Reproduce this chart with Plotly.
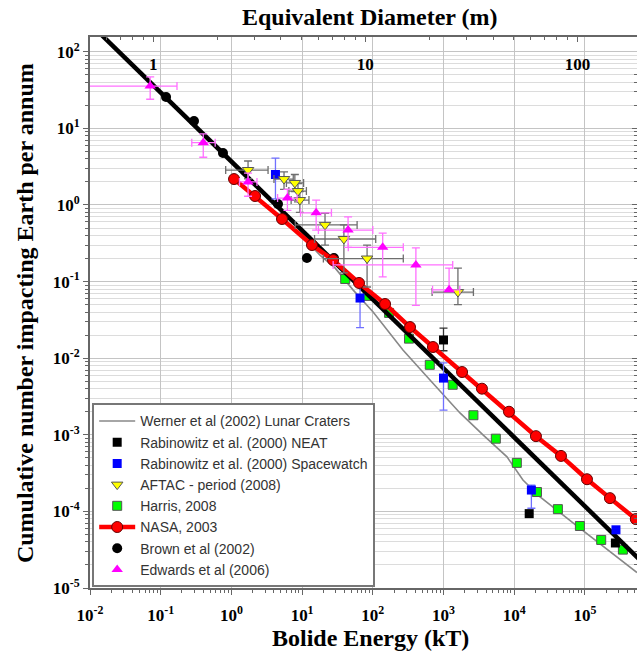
import math
import plotly.graph_objects as go

# ---------------- data ----------------
# Werner et al (2002) lunar craters (grey curve)
werner_E = [9.98, 17.9, 29.2, 52.5, 101, 267, 644, 984, 1710, 3620, 7910, 13300, 23200, 67900, 206000, 546000]
werner_N = [0.394, 0.222, 0.151, 0.078, 0.040, 0.0128, 0.00519, 0.00341, 0.00193, 0.001, 0.000515,
            0.000257, 0.000155, 0.0000708, 0.0000316, 0.0000159]

# Rabinowitz et al. (2000) NEAT
neat_E = [1000, 16300, 270000]
neat_N = [0.0173, 0.0000935, 0.0000387]
neat_N_lo = [0.0125, 0.0000935, 0.0000387]
neat_N_hi = [0.0247, 0.0000935, 0.0000387]

# Rabinowitz et al. (2000) Spacewatch
sw_E = [4.2, 66, 1000, 17500, 275000]
sw_N = [2.5, 0.061, 0.0055, 0.00019, 0.0000575]
sw_N_lo = [1.2, 0.025, 0.0021, 0.00011, 0.0000575]
sw_N_hi = [4.1, 0.1, 0.0087, 0.00022, 0.0000575]

# AFTAC - period (2008)
aftac_E = [1.72, 5.55, 7.9, 8.75, 9.3, 21.1, 39, 83, 1600]
aftac_N = [2.86, 2.18, 1.94, 1.52, 1.16, 0.55, 0.36, 0.20, 0.073]
aftac_E_lo = [0.83, 4.0, 6.0, 6.5, 7.0, 8.0, 15, 20, 690]
aftac_E_hi = [3.3, 7.5, 10.5, 11.5, 12.5, 60, 110, 270, 2650]
aftac_N_lo = [2.2, 1.6, 1.5, 1.1, 0.8, 0.3, 0.13, 0.085, 0.05]
aftac_N_hi = [3.75, 2.7, 2.5, 1.9, 1.5, 0.78, 0.55, 0.3, 0.15]

# Harris, 2008
harris_E = [40.7, 85, 170, 325, 640, 1350, 2650, 5500, 10900, 21000, 41500, 85000, 170000, 345000]
harris_N = [0.108, 0.065, 0.039, 0.018, 0.0082, 0.0045, 0.0018, 0.00089, 0.00043, 0.000179,
            0.000107, 0.0000645, 0.0000424, 0.0000317]

# NASA, 2003
nasa_E = [1.09, 2.16, 5.2, 13.8, 27.4, 63.8, 149, 336, 710, 1830, 3500, 8440, 20300, 45900, 107000, 226000, 525000]
nasa_N = [2.18, 1.31, 0.656, 0.30, 0.191, 0.096, 0.051, 0.0255, 0.014, 0.0066, 0.0040, 0.0020,
          0.00096, 0.00053, 0.000263, 0.000149, 0.0000794]

# Brown et al (2002) points and power-law fit line
brown_E = [0.119, 0.296, 0.76, 4.56, 11.7, 28.2]
brown_N = [25.7, 12.5, 4.77, 1.03, 0.203, 0.203]
brown_fit_E = [0.01, 600000]
brown_fit_N = [233, 0.0000233]

# Edwards et al (2006)
edw_E = [0.071, 0.40, 1.72, 6.2, 15.8, 44.7, 138, 407, 1200]
edw_N = [35.7, 6.5, 2.0, 1.23, 0.79, 0.47, 0.28, 0.165, 0.078]
edw_E_lo = [0.005, 0.275, 1.3, 4.5, 9.5, 17, 45, 27.5, 700]
edw_E_hi = [0.17, 0.59, 2.3, 8.5, 26, 100, 270, 1350, 1700]
edw_N_lo = [24, 4.2, 1.3, 0.85, 0.47, 0.28, 0.115, 0.049, 0.075]
edw_N_hi = [47, 8.5, 2.6, 1.6, 1.16, 0.7, 0.43, 0.275, 0.15]

# axis ticks
x_tickvals = [0.01, 0.1, 1, 10, 100, 1000, 10000, 100000]
x_ticktext = ["10<sup>-2</sup>", "10<sup>-1</sup>", "10<sup>0</sup>", "10<sup>1</sup>",
              "10<sup>2</sup>", "10<sup>3</sup>", "10<sup>4</sup>", "10<sup>5</sup>"]
y_tickvals = [0.00001, 0.0001, 0.001, 0.01, 0.1, 1, 10, 100]
y_ticktext = ["10<sup>-5</sup>", "10<sup>-4</sup>", "10<sup>-3</sup>", "10<sup>-2</sup>",
              "10<sup>-1</sup>", "10<sup>0</sup>", "10<sup>1</sup>", "10<sup>2</sup>"]
d_tickvals = [1, 10, 100]
d_ticktext = ["1", "10", "100"]
E_PER_D3 = 0.0785  # kT per m^3 of equivalent diameter (read from top/bottom axis alignment)

title_top = "Equivalent Diameter (m)"
title_x = "Bolide Energy (kT)"
title_y = "Cumulative number impacting Earth per annum"

# ---------------- figure ----------------
XMIN, XMAX = -2.0, 5.737
YMIN, YMAX = -5.0, 2.193


def err(vals, lo, hi):
    return dict(plus=[h - v for v, h in zip(vals, hi)], minus=[v - l for v, l in zip(vals, lo)])


fig = go.Figure()

fig.add_trace(go.Scatter(x=werner_E, y=werner_N, mode="lines", name="Werner et al (2002) Lunar Craters",
                         line=dict(color="#888888", width=1.6), legendrank=1))

fig.add_trace(go.Scatter(x=harris_E, y=harris_N, mode="markers", name="Harris, 2008",
                         marker=dict(symbol="square", size=9, color="#00ff00",
                                     line=dict(color="#555555", width=1)), legendrank=5))

fig.add_trace(go.Scatter(x=brown_fit_E, y=brown_fit_N, mode="lines", showlegend=False,
                         line=dict(color="black", width=4.5)))

fig.add_trace(go.Scatter(x=brown_E, y=brown_N, mode="markers", name="Brown et al (2002)",
                         marker=dict(symbol="circle", size=10, color="black"), legendrank=7))

e = err(neat_N, neat_N_lo, neat_N_hi)
fig.add_trace(go.Scatter(x=neat_E, y=neat_N, mode="markers", name="Rabinowitz et al. (2000) NEAT",
                         marker=dict(symbol="square", size=9, color="black"),
                         error_y=dict(type="data", symmetric=False, array=e["plus"], arrayminus=e["minus"],
                                      color="#333333", thickness=1.3, width=4), legendrank=2))

e = err(sw_N, sw_N_lo, sw_N_hi)
fig.add_trace(go.Scatter(x=sw_E, y=sw_N, mode="markers", name="Rabinowitz et al. (2000) Spacewatch",
                         marker=dict(symbol="square", size=9, color="#0000ff"),
                         error_y=dict(type="data", symmetric=False, array=e["plus"], arrayminus=e["minus"],
                                      color="#7070ff", thickness=1.3, width=4), legendrank=3))

fig.add_trace(go.Scatter(x=nasa_E, y=nasa_N, mode="lines+markers", name="NASA, 2003",
                         line=dict(color="#ff0000", width=4.5),
                         marker=dict(symbol="circle", size=11, color="#ff0000",
                                     line=dict(color="#660000", width=1)), legendrank=6))

ex = err(aftac_E, aftac_E_lo, aftac_E_hi)
ey = err(aftac_N, aftac_N_lo, aftac_N_hi)
fig.add_trace(go.Scatter(x=aftac_E, y=aftac_N, mode="markers", name="AFTAC - period (2008)",
                         marker=dict(symbol="triangle-down", size=10, color="#ffff00",
                                     line=dict(color="#555555", width=1)),
                         error_x=dict(type="data", symmetric=False, array=ex["plus"], arrayminus=ex["minus"],
                                      color="#6e6e6e", thickness=1.3, width=4),
                         error_y=dict(type="data", symmetric=False, array=ey["plus"], arrayminus=ey["minus"],
                                      color="#6e6e6e", thickness=1.3, width=4), legendrank=4))

ex = err(edw_E, edw_E_lo, edw_E_hi)
ey = err(edw_N, edw_N_lo, edw_N_hi)
fig.add_trace(go.Scatter(x=edw_E, y=edw_N, mode="markers", name="Edwards et al (2006)",
                         marker=dict(symbol="triangle-up", size=10, color="#ff00ff"),
                         error_x=dict(type="data", symmetric=False, array=ex["plus"], arrayminus=ex["minus"],
                                      color="#ff70ff", thickness=1.3, width=4),
                         error_y=dict(type="data", symmetric=False, array=ey["plus"], arrayminus=ey["minus"],
                                      color="#ff70ff", thickness=1.3, width=4), legendrank=8))

# invisible trace to activate the top (diameter) and right axes
fig.add_trace(go.Scatter(x=[1], y=[1], xaxis="x2", yaxis="y2", mode="markers",
                         marker=dict(opacity=0), showlegend=False, hoverinfo="skip"))

x_minor = [m * 10 ** k for k in range(-2, 6) for m in range(2, 10)]
y_minor = [m * 10 ** k for k in range(-5, 3) for m in range(2, 10)]
d_minor = [m * 10 ** k for k in range(-1, 3) for m in range(2, 10)]

serif = dict(family="Liberation Serif, Times New Roman, serif", color="black", weight="bold")
AX = "#666666"

fig.update_layout(
    width=637, height=656,
    margin=dict(l=90, r=0, t=37, b=68),
    paper_bgcolor="white", plot_bgcolor="white",
    xaxis=dict(type="log", range=[XMIN, XMAX], tickvals=x_tickvals, ticktext=x_ticktext, automargin=False,
               ticks="outside", ticklen=5, tickwidth=1, tickcolor=AX,
               tickfont=dict(**serif, size=17), ticklabelstandoff=6,
               showline=True, linecolor=AX, linewidth=2,
               showgrid=True, gridcolor="#c4c4c4", gridwidth=1, zeroline=False,
               minor=dict(tickvals=x_minor, ticks="outside", ticklen=3, tickcolor=AX, showgrid=False)),
    yaxis=dict(type="log", range=[YMIN, YMAX], tickvals=y_tickvals, ticktext=y_ticktext, automargin=False,
               ticks="outside", ticklen=5, tickwidth=1, tickcolor=AX,
               tickfont=dict(**serif, size=17), ticklabelstandoff=0,
               showline=True, linecolor=AX, linewidth=2,
               showgrid=True, gridcolor="#c4c4c4", gridwidth=1, zeroline=False,
               minor=dict(tickvals=y_minor, ticks="outside", ticklen=3, tickcolor=AX,
                          showgrid=True, gridcolor="#dcdcdc", gridwidth=1)),
    xaxis2=dict(type="log", overlaying="x", side="top", automargin=False,
                range=[(XMIN - math.log10(E_PER_D3)) / 3, (XMAX - math.log10(E_PER_D3)) / 3],
                tickvals=d_tickvals, ticktext=d_ticktext, ticks="inside", ticklen=5, tickcolor=AX,
                ticklabelposition="inside", tickfont=dict(**serif, size=17), ticklabelstandoff=17,
                showline=True, linecolor=AX, linewidth=2, showgrid=False, zeroline=False,
                minor=dict(tickvals=d_minor, ticks="inside", ticklen=3, tickcolor=AX, showgrid=False)),
    yaxis2=dict(type="log", overlaying="y", side="right", range=[YMIN, YMAX], automargin=False,
                tickvals=y_tickvals, showticklabels=False, ticks="inside", ticklen=5, tickcolor=AX,
                showline=True, linecolor=AX, linewidth=2, showgrid=False, zeroline=False,
                minor=dict(tickvals=y_minor, ticks="inside", ticklen=3, tickcolor=AX, showgrid=False)),
    legend=dict(x=0.004, y=0.335, xanchor="left", yanchor="top",
                bgcolor="white", bordercolor="#777777", borderwidth=2,
                font=dict(family="Liberation Sans, Arial, sans-serif", size=14, color="#333333"),
                itemwidth=36, tracegroupgap=0),
    showlegend=True,
    annotations=[
        dict(text=title_top, xref="paper", yref="paper", x=0.512, y=1.036, xanchor="center", yanchor="middle",
             showarrow=False, font=dict(**serif, size=24)),
        dict(text=title_x, xref="paper", yref="paper", x=0.512, y=-0.0907, xanchor="center", yanchor="middle",
             showarrow=False, font=dict(**serif, size=24)),
        dict(text=title_y, xref="paper", yref="paper", x=-0.1188, y=0.499, xanchor="center", yanchor="middle",
             textangle=-90, showarrow=False, font=dict(**serif, size=24)),
    ],
)

# remove the browser's default 8px body margin so the figure fills the window exactly
fig.write_html("out.html", config={"displayModeBar": False},
               post_script="document.body.style.margin='0px';")
